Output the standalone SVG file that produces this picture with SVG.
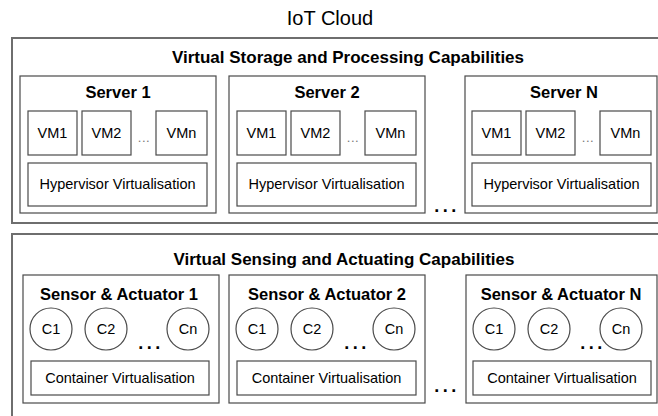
<svg xmlns="http://www.w3.org/2000/svg" width="658" height="416" viewBox="0 0 658 416">
<style>
text{font-family:"Liberation Sans",Arial,sans-serif;fill:#000;text-anchor:middle}
.outer{fill:#fff;stroke:#6e6e6e;stroke-width:2}
.box{fill:#fff;stroke:#4a4a4a;stroke-width:1.2}
.title{font-size:20px}
.h1{font-size:17px;font-weight:bold}
.h2{font-size:16.5px;font-weight:bold}
.t{font-size:14.5px}
.sd{font-size:13px;fill:#777;letter-spacing:0.5px}
.bd{font-size:18px;font-weight:bold;letter-spacing:3.5px}
</style>
<rect width="658" height="416" fill="#fff"/>
<text class="title" x="330" y="25">IoT Cloud</text>

<g id="storage">
<rect class="outer" x="12" y="38" width="690" height="185"/>
<text class="h1" x="348" y="63">Virtual Storage and Processing Capabilities</text>
</g>

<g id="server1">
<rect class="box" x="20" y="76" width="196" height="137"/>
<text class="h2" x="118" y="98">Server 1</text>
<rect class="box" x="28" y="111" width="49" height="44"/><text class="t" x="52.5" y="138">VM1</text>
<rect class="box" x="82" y="111" width="49" height="44"/><text class="t" x="106.5" y="138">VM2</text>
<text class="sd" x="144" y="142">...</text>
<rect class="box" x="156" y="111" width="51" height="44"/><text class="t" x="181.5" y="138">VMn</text>
<rect class="box" x="28" y="163" width="179" height="43"/><text class="t" x="117.5" y="189">Hypervisor Virtualisation</text>
</g>

<g id="server2">
<rect class="box" x="229" y="76" width="196" height="137"/>
<text class="h2" x="327" y="98">Server 2</text>
<rect class="box" x="237" y="111" width="49" height="44"/><text class="t" x="261.5" y="138">VM1</text>
<rect class="box" x="291" y="111" width="49" height="44"/><text class="t" x="315.5" y="138">VM2</text>
<text class="sd" x="353" y="142">...</text>
<rect class="box" x="365" y="111" width="51" height="44"/><text class="t" x="390.5" y="138">VMn</text>
<rect class="box" x="237" y="163" width="179" height="43"/><text class="t" x="326.5" y="189">Hypervisor Virtualisation</text>
</g>

<text class="bd" x="447" y="212">...</text>

<g id="serverN">
<rect class="box" x="465" y="76" width="192" height="137"/>
<text class="h2" x="564" y="98">Server N</text>
<rect class="box" x="472" y="111" width="49" height="44"/><text class="t" x="496.5" y="138">VM1</text>
<rect class="box" x="526" y="111" width="49" height="44"/><text class="t" x="550.5" y="138">VM2</text>
<text class="sd" x="588" y="142">...</text>
<rect class="box" x="600" y="111" width="51" height="44"/><text class="t" x="625.5" y="138">VMn</text>
<rect class="box" x="472" y="163" width="179" height="43"/><text class="t" x="561.5" y="189">Hypervisor Virtualisation</text>
</g>

<g id="sensing">
<rect class="outer" x="12" y="234" width="690" height="200"/>
<text class="h1" x="344" y="265">Virtual Sensing and Actuating Capabilities</text>
</g>

<g id="sensor1">
<rect class="box" x="23" y="275" width="196" height="128"/>
<text class="h2" x="119" y="300">Sensor &amp; Actuator 1</text>
<circle class="box" cx="51" cy="329" r="21"/><text class="t" x="51" y="334">C1</text>
<circle class="box" cx="106" cy="329" r="21"/><text class="t" x="106" y="334">C2</text>
<text class="bd" x="151" y="349">...</text>
<circle class="box" cx="188" cy="329" r="21"/><text class="t" x="188" y="334">Cn</text>
<rect class="box" x="31" y="361" width="178" height="34"/><text class="t" x="120" y="383">Container Virtualisation</text>
</g>

<g id="sensor2">
<rect class="box" x="229" y="275" width="196" height="128"/>
<text class="h2" x="327" y="300">Sensor &amp; Actuator 2</text>
<circle class="box" cx="257" cy="329" r="21"/><text class="t" x="257" y="334">C1</text>
<circle class="box" cx="312" cy="329" r="21"/><text class="t" x="312" y="334">C2</text>
<text class="bd" x="357" y="349">...</text>
<circle class="box" cx="394" cy="329" r="21"/><text class="t" x="394" y="334">Cn</text>
<rect class="box" x="237" y="361" width="179" height="34"/><text class="t" x="326.5" y="383">Container Virtualisation</text>
</g>

<text class="bd" x="447" y="392">...</text>

<g id="sensorN">
<rect class="box" x="466" y="275" width="191" height="128"/>
<text class="h2" x="561" y="300">Sensor &amp; Actuator N</text>
<circle class="box" cx="494" cy="329" r="21"/><text class="t" x="494" y="334">C1</text>
<circle class="box" cx="549" cy="329" r="21"/><text class="t" x="549" y="334">C2</text>
<text class="bd" x="593" y="349">...</text>
<circle class="box" cx="621" cy="329" r="21"/><text class="t" x="621" y="334">Cn</text>
<rect class="box" x="473" y="361" width="178" height="34"/><text class="t" x="562" y="383">Container Virtualisation</text>
</g>
</svg>
